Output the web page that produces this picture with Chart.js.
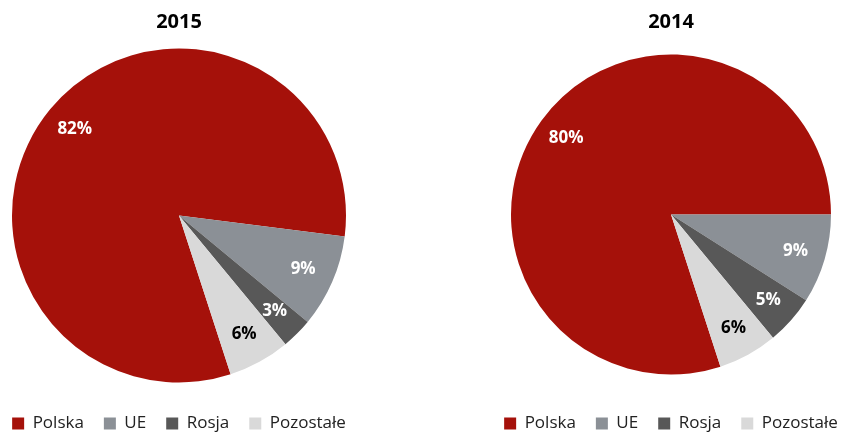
<!DOCTYPE html>
<html>
<head>
<meta charset="utf-8">
<script src="https://cdn.jsdelivr.net/npm/chart.js@4"></script>
<style>
  html, body { margin: 0; padding: 0; background: #fff; overflow: hidden; }
  body { width: 845px; height: 432px; position: relative; }
  .box { position: absolute; top: 0; height: 442px; }
</style>
</head>
<body>
<div class="box" style="left:-21px;width:400px;"><canvas id="pie2015"></canvas></div>
<div class="box" style="left:471px;width:400px;"><canvas id="pie2014"></canvas></div>
<script>
const categories = ["Polska", "UE", "Rosja", "Pozostałe"];
const values2015 = [82, 9, 3, 6];
const values2014 = [80, 9, 5, 6];
const sliceColors = ["#A5110A", "#8B9096", "#585858", "#D9D9D9"];
const labelColors = ["#ffffff", "#ffffff", "#ffffff", "#000000"];

const FONT = "'Open Sans'";

// percent labels inside each slice
const sliceLabels = {
  id: "sliceLabels",
  afterDatasetsDraw(chart) {
    const ctx = chart.ctx;
    const meta = chart.getDatasetMeta(0);
    const data = chart.data.datasets[0].data;
    ctx.save();
    ctx.font = "bold 17px " + FONT;
    ctx.textAlign = "center";
    ctx.textBaseline = "middle";
    meta.data.forEach((arc, i) => {
      const mid = (arc.startAngle + arc.endAngle) / 2;
      const r = arc.outerRadius * 0.81;
      ctx.fillStyle = labelColors[i];
      ctx.fillText(data[i] + "%", arc.x + Math.cos(mid) * r, arc.y + Math.sin(mid) * r);
    });
    ctx.restore();
  }
};

function makePie(id, title, values, radius, titleBottom) {
  return new Chart(document.getElementById(id), {
    type: "pie",
    data: {
      labels: categories,
      datasets: [{
        data: values,
        backgroundColor: sliceColors,
        borderWidth: 0
      }]
    },
    options: {
      responsive: true,
      maintainAspectRatio: false,
      animation: false,
      rotation: 162,
      radius: radius,
      layout: { padding: 0 },
      plugins: {
        title: {
          display: true,
          text: title,
          color: "#000",
          font: { family: FONT, size: 20, weight: "bold", lineHeight: 1.2 },
          padding: { top: 10, bottom: titleBottom }
        },
        legend: {
          position: "bottom",
          labels: {
            boxWidth: 12,
            boxHeight: 12,
            padding: 20,
            color: "#222",
            font: { family: FONT, size: 17 }
          }
        },
        tooltip: { enabled: false }
      }
    },
    plugins: [sliceLabels]
  });
}

makePie("pie2015", "2015", values2015, 167, 2);
makePie("pie2014", "2014", values2014, 160, 0);
</script>
</body>
</html>
